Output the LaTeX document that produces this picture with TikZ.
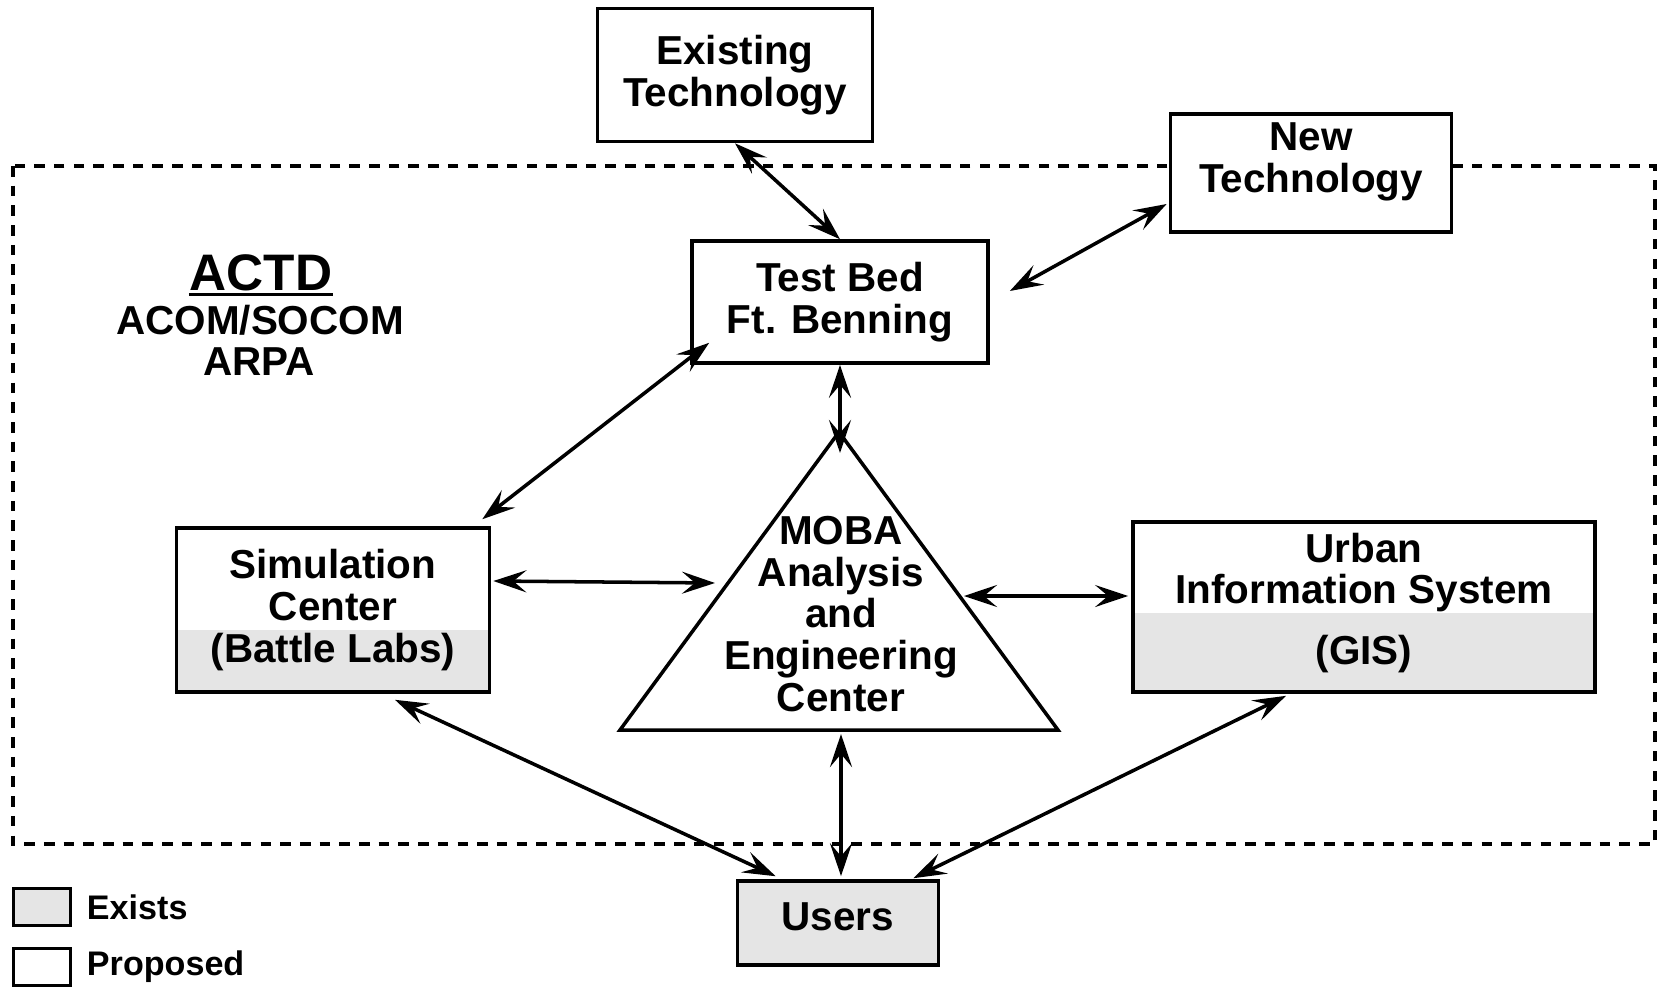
\documentclass[tikz,border=0pt]{standalone}
\usepackage{fontspec}
\setmainfont{Liberation Sans}
\usetikzlibrary{arrows.meta,calc,positioning}

\begin{document}
\begin{tikzpicture}[x=0.01cm, y=-0.01cm,
    >={Stealth[length=0.33cm,width=0.22cm,inset=0.13cm]},
    every node/.style={font=\bfseries\fontsize{11.5}{11.9}\selectfont},
    box/.style={draw, fill=white, line width=1pt, align=center, inner sep=0pt},
    shade_low/.style={path picture={\fill[gray!20] (path picture bounding box.south west) rectangle ($(path picture bounding box.north east)!#1!(path picture bounding box.south east)$);}},
    link/.style={<->, line width=1pt}]
    \useasboundingbox (0,0) rectangle (1659,987);
    \draw[line width=1pt, dash pattern=on 3pt off 2.6pt] (13,166) rectangle (1655,844);

    \node[box, minimum width=2.75cm, minimum height=1.33cm] (existing_tech) at (735,75) {Existing\\Technology};
    \node[box, minimum width=2.81cm, minimum height=1.18cm] (new_tech) at (1311,173) {};
    \node[align=center, inner sep=0pt] (new_tech_text) at (1311,162) {New\\Technology};
    \node[box, minimum width=2.96cm, minimum height=1.22cm] (test_bed) at (840,302) {Test Bed\\Ft. Benning};
    \node[box, minimum width=3.13cm, minimum height=1.64cm, shade_low=0.62] (sim_center) at (333,610) {Simulation\\Center\\(Battle Labs)};
    \node[box, minimum width=4.62cm, minimum height=1.70cm, shade_low=0.535] (urban_gis) at (1364,607) {};
    \node[align=center, inner sep=0pt] (urban_gis_text) at (1364,603) {Urban\\Information System\\[0.19cm](GIS)};
    \node[box, minimum width=2.01cm, minimum height=0.84cm, fill=gray!20] (users) at (838,923) {\raisebox{0.12cm}{Users}};

    \node[inner sep=0pt, font=\bfseries\fontsize{14.6}{16}\selectfont] (actd) at (261,273) {ACTD};
    \draw[line width=1pt] ($(actd.base west)+(0,4)$) -- ($(actd.base east)+(0,4)$);
    \node[inner sep=0pt] (acom_socom) at (260,320) {ACOM/SOCOM};
    \node[inner sep=0pt] (arpa) at (259,362) {ARPA};

    \coordinate (tri_apex) at (839,432);
    \coordinate (tri_bl) at (620,730);
    \coordinate (tri_br) at (1058,730);
    \draw[line width=1pt, line join=miter] (tri_apex) -- (tri_bl) -- (tri_br) -- cycle;
    \node[align=center, inner sep=0pt] (moba_text) at (841,614) {MOBA\\Analysis\\and\\Engineering\\Center};
    \coordinate (tri_n) at (840,453);
    \coordinate (tri_w) at (715,583);
    \coordinate (tri_e) at (964,596);
    \coordinate (tri_s) at (841,734);

    \draw[link] (existing_tech.south) -- (test_bed.north);
    \draw[link] ($(new_tech.west)+(-2,31)$) -- ($(test_bed.east)+(20,-11)$);
    \draw[link] ($(test_bed.south west)+(19,-22)$) -- ($(sim_center.north east)+(-9,-7)$);
    \draw[link] (test_bed.south) -- (tri_n);
    \draw[link] ($(sim_center.east)+(2,-29)$) -- (tri_w);
    \draw[link] (tri_e) -- ($(urban_gis.west)+(-3,-11)$);
    \draw[link] ($(sim_center.south)+(62,6)$) -- ($(users.north west)+(40,-3)$);
    \draw[link] (tri_s) -- ($(users.north)+(3,-3)$);
    \draw[link] ($(urban_gis.south)+(-78,2)$) -- ($(users.north east)+(-27,-1)$);

    \node[box, minimum width=0.57cm, minimum height=0.37cm, fill=gray!20] (exists_box) at (42,907) {};
    \node[inner sep=0pt, right=0.14cm of exists_box, font=\bfseries\fontsize{9.7}{11}\selectfont] (exists_label) {Exists};
    \node[box, minimum width=0.57cm, minimum height=0.37cm] (proposed_box) at (42,967) {};
    \node[inner sep=0pt, right=0.14cm of proposed_box, font=\bfseries\fontsize{9.7}{11}\selectfont] (proposed_label) {Proposed};
\end{tikzpicture}
\end{document}
